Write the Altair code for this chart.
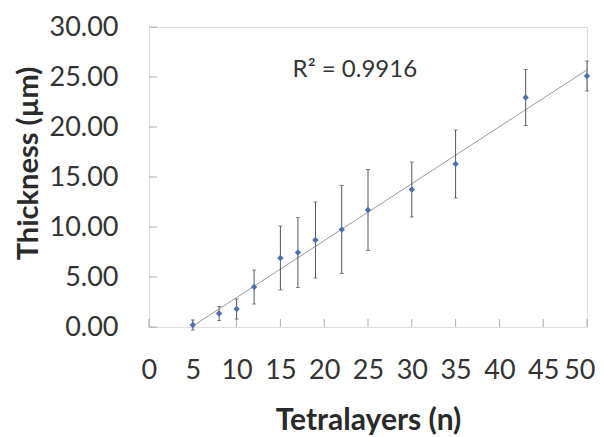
import altair as alt
import pandas as pd

# Data
layers = [5, 8, 10, 12, 15, 17, 19, 22, 25, 30, 35, 43, 50]
thickness = [0.2, 1.35, 1.8, 4.0, 6.9, 7.45, 8.7, 9.75, 11.7, 13.75, 16.3, 22.95, 25.1]
err = [0.5, 0.7, 1.0, 1.7, 3.2, 3.5, 3.8, 4.4, 4.05, 2.75, 3.4, 2.8, 1.5]
x_ticks = [0, 5, 10, 15, 20, 25, 30, 35, 40, 45, 50]
y_ticks = [0, 5, 10, 15, 20, 25, 30]
r2_text = ["R² = 0.9916"]
r2_pos_x = [23.5]
r2_pos_y = [25.7]

df = pd.DataFrame({"n": layers, "t": thickness, "e": err})
df["lo"] = df["t"] - df["e"]
df["hi"] = df["t"] + df["e"]
ann = pd.DataFrame({"x": r2_pos_x, "y": r2_pos_y, "label": r2_text})
xt = pd.DataFrame({"v": x_ticks})
yt = pd.DataFrame({"v": y_ticks})

FONT = "Lato"

xscale = alt.Scale(domain=[0, 50], nice=False)
yscale = alt.Scale(domain=[0, 30], nice=False)

xaxis = alt.Axis(values=x_ticks, ticks=False, domain=False, grid=False, labelOverlap=False,
                 labelFlush=True, labelFlushOffset=8,
                 labelPadding=30, labelFontSize=27, labelFont=FONT, labelColor="#333333",
                 title="Tetralayers (n)", titleFont=FONT, titleFontSize=30, titleFontWeight="bold",
                 titleColor="#2a2a2a", titleX=219, titleY=93, titleBaseline="middle", titleAlign="center")
yaxis = alt.Axis(values=y_ticks, format=".2f", ticks=False, domain=False, grid=False, labelOverlap=False,
                 labelFlush=False,
                 labelPadding=31, labelFontSize=27, labelFont=FONT, labelColor="#333333",
                 title="Thickness (µm)", titleFont=FONT, titleFontSize=29, titleFontWeight="bold",
                 titleColor="#2a2a2a", titleX=-121, titleY=136, titleAngle=-90,
                 titleBaseline="middle", titleAlign="center")

base = alt.Chart(df)

trend = base.transform_regression("n", "t", extent=[5, 50]).mark_line(
    color="#9a9a9a", strokeWidth=1
).encode(x=alt.X("n:Q", scale=xscale, axis=xaxis), y=alt.Y("t:Q", scale=yscale, axis=yaxis))

xtick_marks = alt.Chart(xt).mark_tick(color="#8a8a8a", orient="vertical", size=8, thickness=1).encode(
    x="v:Q", y=alt.value(296))
ytick_marks = alt.Chart(yt).mark_tick(color="#8a8a8a", orient="horizontal", size=8, thickness=1).encode(
    y="v:Q", x=alt.value(4))

ERR_COLOR = "#555555"
bars = base.mark_rule(color=ERR_COLOR, strokeWidth=1).encode(
    x="n:Q", y="lo:Q", y2="hi:Q")
cap_lo = base.mark_tick(color=ERR_COLOR, orient="horizontal", size=4, thickness=1).encode(
    x="n:Q", y="lo:Q")
cap_hi = base.mark_tick(color=ERR_COLOR, orient="horizontal", size=4, thickness=1).encode(
    x="n:Q", y="hi:Q")
pts = base.mark_point(shape="diamond", filled=True, size=40, color="#4a6fb0", opacity=1).encode(
    x="n:Q", y="t:Q")

text = alt.Chart(ann).mark_text(font=FONT, fontSize=24, color="#333333").encode(
    x="x:Q", y="y:Q", text="label:N")

chart = alt.layer(trend, xtick_marks, ytick_marks, bars, cap_lo, cap_hi, pts, text).properties(
    width=438, height=300,
    autosize=alt.AutoSizeParams(type="none"),
    padding={"left": 141, "top": 19, "right": 9, "bottom": 110},
).configure_view(stroke="#8a8a8a", strokeWidth=1).configure(background="white")

chart.save("out.html", embed_options={"renderer": "svg", "actions": False})
